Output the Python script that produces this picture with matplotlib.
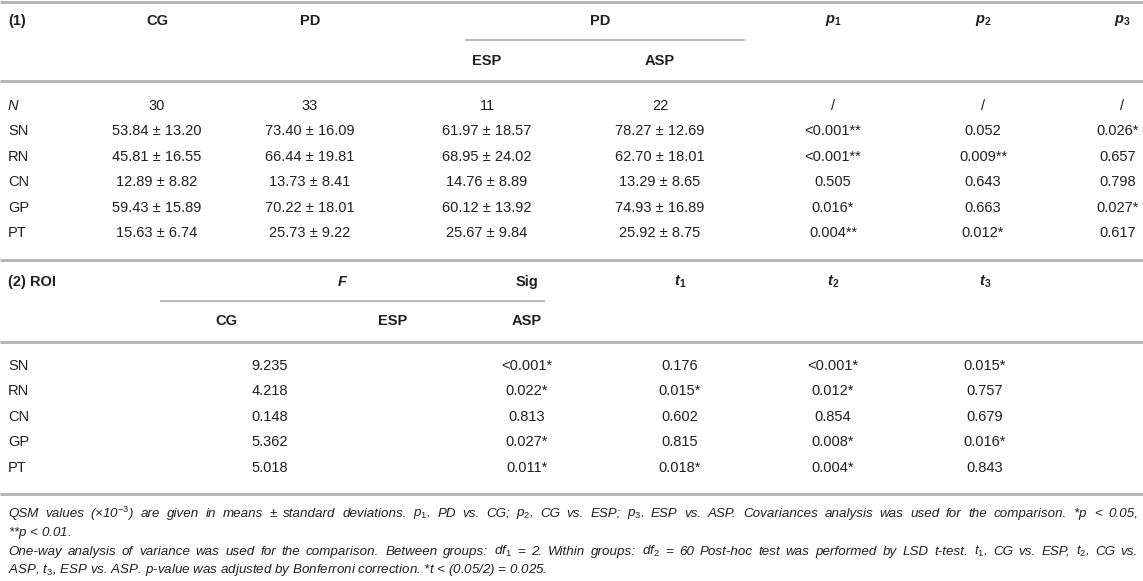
import matplotlib
matplotlib.use("Agg")
import matplotlib.pyplot as plt

plt.rcParams['font.family'] = ['Liberation Sans', 'DejaVu Sans']
plt.rcParams['mathtext.fontset'] = 'custom'
plt.rcParams['mathtext.rm'] = 'Liberation Sans'
plt.rcParams['mathtext.it'] = 'Liberation Sans:italic'
plt.rcParams['mathtext.bf'] = 'Liberation Sans:bold'
plt.rcParams['mathtext.bfit'] = 'Liberation Sans:bold:italic'

# ---------------- data: part (1) ----------------
regions = ["SN", "RN", "CN", "GP", "PT"]
n_values = ["30", "33", "11", "22", "/", "/", "/"]
cg_mean = [53.84, 45.81, 12.89, 59.43, 15.63]
cg_sd = [13.20, 16.55, 8.82, 15.89, 6.74]
pd_mean = [73.40, 66.44, 13.73, 70.22, 25.73]
pd_sd = [16.09, 19.81, 8.41, 18.01, 9.22]
esp_mean = [61.97, 68.95, 14.76, 60.12, 25.67]
esp_sd = [18.57, 24.02, 8.89, 13.92, 9.84]
asp_mean = [78.27, 62.70, 13.29, 74.93, 25.92]
asp_sd = [12.69, 18.01, 8.65, 16.89, 8.75]
p1 = ["<0.001**", "<0.001**", "0.505", "0.016*", "0.004**"]
p2 = ["0.052", "0.009**", "0.643", "0.663", "0.012*"]
p3 = ["0.026*", "0.657", "0.798", "0.027*", "0.617"]

# ---------------- data: part (2) ----------------
f_values = ["9.235", "4.218", "0.148", "5.362", "5.018"]
sig_values = ["<0.001*", "0.022*", "0.813", "0.027*", "0.011*"]
t1 = ["0.176", "0.015*", "0.602", "0.815", "0.018*"]
t2 = ["<0.001*", "0.012*", "0.854", "0.008*", "0.004*"]
t3 = ["0.015*", "0.757", "0.679", "0.016*", "0.843"]

# footnote lines: (text, justified?)
footnotes = [
    (r"QSM values (×10$^{-3}$) are given in means ± standard deviations. $p_{1}$, PD vs. CG; $p_{2}$, CG vs. ESP; $p_{3}$, ESP vs. ASP. Covariances analysis was used for the comparison. *$p$ < 0.05,", True),
    (r"**$p$ < 0.01.", False),
    (r"One-way analysis of variance was used for the comparison. Between groups: df$_{1}$ = 2. Within groups: df$_{2}$ = 60 Post-hoc test was performed by LSD t-test. t$_{1}$, CG vs. ESP, t$_{2}$, CG vs.", True),
    (r"ASP, t$_{3}$, ESP vs. ASP. p-value was adjusted by Bonferroni correction. *t < (0.05/2) = 0.025.", False),
]

W, H = 1143, 581
fig = plt.figure(figsize=(W / 100, H / 100), dpi=100)
ax = fig.add_axes([0, 0, 1, 1])
ax.set_xlim(0, W)
ax.set_ylim(H, 0)
ax.axis("off")
renderer = fig.canvas.get_renderer()

TXT = "#231f20"
RULE = "#b3b3b3"
FS = 10.5
FN_FS = 9.6

def t(x, y, s, ha="center", weight="normal", style="normal", fs=FS):
    return ax.text(x, y, s, ha=ha, va="center", color=TXT, fontsize=fs,
                   fontweight=weight, fontstyle=style)

def rule(y, x0=0, x1=W, lw=2.0):
    ax.hlines(y, x0, x1, color=RULE, linewidth=lw)

def justified(x0, x1, y, s, fs, style="italic"):
    words = s.split(" ")
    arts = []
    widths = []
    for w in words:
        a = t(x0, y, w, ha="left", style=style, fs=fs)
        bb = a.get_window_extent(renderer=renderer)
        arts.append(a)
        widths.append(bb.width)
    gap = (x1 - x0 - sum(widths)) / (len(words) - 1)
    x = x0
    for a, wd in zip(arts, widths):
        a.set_x(x)
        x += wd + gap

# ---- part 1 layout ----
xc1 = [157, 310, 487, 660, 833, 983, 1122]
rule(2)
t(8, 21, "(1)", ha="left", weight="bold")
t(xc1[0], 21, "CG", weight="bold")
t(xc1[1], 21, "PD", weight="bold")
t(600, 21, "PD", weight="bold")
rule(40, 465, 745, lw=1.3)
t(xc1[2], 61, "ESP", weight="bold")
t(xc1[3], 61, "ASP", weight="bold")
t(xc1[4], 21, r"$\mathbfit{p}_{\mathbf{1}}$")
t(xc1[5], 21, r"$\mathbfit{p}_{\mathbf{2}}$")
t(xc1[6], 21, r"$\mathbfit{p}_{\mathbf{3}}$")
rule(81)

row0 = 106
dy = 25.4
t(8, row0, "N", ha="left", style="italic")
for j, v in enumerate(n_values):
    t(xc1[j], row0, v)
for i, r in enumerate(regions):
    y = row0 + dy * (i + 1)
    t(8, y, r, ha="left")
    t(xc1[0], y, f"{cg_mean[i]:.2f} ± {cg_sd[i]:.2f}")
    t(xc1[1], y, f"{pd_mean[i]:.2f} ± {pd_sd[i]:.2f}")
    t(xc1[2], y, f"{esp_mean[i]:.2f} ± {esp_sd[i]:.2f}")
    t(xc1[3], y, f"{asp_mean[i]:.2f} ± {asp_sd[i]:.2f}")
    t(xc1[4], y, p1[i])
    t(xc1[5], y, p2[i])
    t(xc1[6] - 4, y, p3[i])
rule(260)

# ---- part 2 layout ----
t(8, 282, "(2) ROI", ha="left", weight="bold")
t(342, 282, "F", weight="bold", style="italic")
t(527, 282, "Sig", weight="bold")
rule(301, 160, 545, lw=1.3)
t(226, 321, "CG", weight="bold")
t(393, 321, "ESP", weight="bold")
t(527, 321, "ASP", weight="bold")
xc2 = [270, 527, 680, 833, 985]
t(xc2[2], 282, r"$\mathbfit{t}_{\mathbf{1}}$")
t(xc2[3], 282, r"$\mathbfit{t}_{\mathbf{2}}$")
t(xc2[4], 282, r"$\mathbfit{t}_{\mathbf{3}}$")
rule(342)

row1 = 366
for i, r in enumerate(regions):
    y = row1 + dy * i
    t(8, y, r, ha="left")
    t(xc2[0], y, f_values[i])
    t(xc2[1], y, sig_values[i])
    t(xc2[2], y, t1[i])
    t(xc2[3], y, t2[i])
    t(xc2[4], y, t3[i])
rule(494)

for k, (line, just) in enumerate(footnotes):
    y = 514 + 18.8 * k
    if just:
        justified(8, 1138, y, line, FN_FS)
    else:
        t(8, y, line, ha="left", style="italic", fs=FN_FS)

fig.savefig("out.png", dpi=100, facecolor="white")
